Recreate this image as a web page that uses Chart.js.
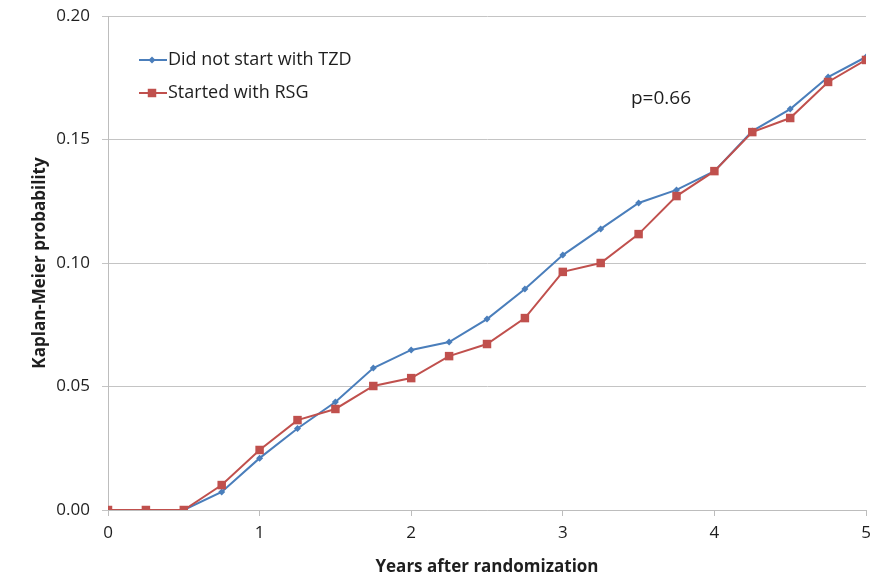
<!DOCTYPE html>
<html>
<head>
<meta charset="utf-8">
<script src="https://cdn.jsdelivr.net/npm/chart.js@4.4.0/dist/chart.umd.min.js"></script>
<style>
  html, body { margin: 0; padding: 0; background: #fff; }
  #wrap { width: 874px; height: 579px; position: relative; }
</style>
</head>
<body>
<div id="wrap"><canvas id="kmChart" width="874" height="579"></canvas></div>
<script>
// years after randomization (every 3 months)
const years = [0, 0.25, 0.5, 0.75, 1, 1.25, 1.5, 1.75, 2, 2.25, 2.5, 2.75, 3, 3.25, 3.5, 3.75, 4, 4.25, 4.5, 4.75, 5];
const noTzd = [0, 0, 0, 0.0073, 0.021, 0.033, 0.0437, 0.0575, 0.0648, 0.068, 0.0773, 0.0895, 0.1032, 0.1138, 0.1243, 0.1296, 0.1372, 0.1534, 0.1623, 0.1753, 0.1834];
const rsg = [0, 0, 0, 0.0101, 0.0243, 0.0364, 0.0409, 0.0502, 0.0534, 0.0623, 0.0672, 0.0777, 0.0964, 0.1, 0.1117, 0.1271, 0.1372, 0.153, 0.1587, 0.1733, 0.1822];
const seriesNames = ['Did not start with TZD', 'Started with RSG'];
const pValueText = 'p=0.66';

const BLUE = '#4a7ebb';
const RED = '#c0504d';
const TEXT = '#1e1e1e';
const FONT = '"Open Sans", "Noto Sans", sans-serif';

function toPoints(vals) {
  return years.map((x, i) => ({ x: x, y: vals[i] }));
}

// legend + p value drawn inside plot area, like the excel chart
const notesPlugin = {
  id: 'notes',
  afterDraw(chart) {
    const ctx = chart.ctx;
    const a = chart.chartArea;
    const items = [
      { name: seriesNames[0], color: BLUE, style: 'rectRot', r: 3.5, y: a.top + 44 },
      { name: seriesNames[1], color: RED, style: 'rect', r: 6, y: a.top + 77 }
    ];
    ctx.save();
    items.forEach(it => {
      const x0 = a.left + 31;
      ctx.strokeStyle = it.color;
      ctx.lineWidth = 2;
      ctx.beginPath();
      ctx.moveTo(x0, it.y);
      ctx.lineTo(x0 + 28, it.y);
      ctx.stroke();
      ctx.fillStyle = it.color;
      Chart.helpers.drawPoint(ctx, { pointStyle: it.style, radius: it.r, borderWidth: 0 }, x0 + 13, it.y);
      ctx.fillStyle = TEXT;
      ctx.font = '18px ' + FONT;
      ctx.textBaseline = 'middle';
      ctx.textAlign = 'left';
      ctx.fillText(it.name, x0 + 29, it.y);
    });
    ctx.font = '19px ' + FONT;
    ctx.fillStyle = TEXT;
    ctx.textBaseline = 'middle';
    ctx.fillText(pValueText, 631, 99);
    ctx.restore();
  }
};

const ctx = document.getElementById('kmChart').getContext('2d');
new Chart(ctx, {
  type: 'line',
  data: {
    datasets: [
      {
        label: seriesNames[0],
        data: toPoints(noTzd),
        borderColor: BLUE,
        backgroundColor: BLUE,
        borderWidth: 2,
        pointStyle: 'rectRot',
        pointRadius: 3.5,
        pointBorderWidth: 0,
        tension: 0,
        order: 2
      },
      {
        label: seriesNames[1],
        data: toPoints(rsg),
        borderColor: RED,
        backgroundColor: RED,
        borderWidth: 2,
        pointStyle: 'rect',
        pointRadius: 6,
        pointBorderWidth: 0,
        tension: 0,
        order: 1
      }
    ]
  },
  options: {
    responsive: false,
    animation: false,
    layout: { padding: { top: 16, right: 8, left: 0, bottom: 0 } },
    plugins: {
      legend: { display: false },
      tooltip: { enabled: false }
    },
    scales: {
      x: {
        type: 'linear',
        min: 0,
        max: 5,
        afterFit: s => {
          s.height = 69;
          s.paddingLeft = 0;
          s.paddingRight = 0;
        },
        ticks: {
          stepSize: 1,
          padding: 7,
          color: TEXT,
          font: { family: FONT, size: 17 }
        },
        grid: {
          drawOnChartArea: false,
          drawTicks: true,
          tickLength: 6,
          color: '#bdbdbd'
        },
        border: { color: '#bdbdbd' },
        title: {
          display: true,
          text: 'Years after randomization',
          color: TEXT,
          font: { family: FONT, size: 17, weight: 'bold' },
          padding: { top: 0, bottom: 2 }
        }
      },
      y: {
        min: 0,
        max: 0.2,
        afterFit: s => {
          s.width = 108;
          s.paddingTop = 0;
          s.paddingBottom = 0;
        },
        ticks: {
          stepSize: 0.05,
          padding: 12,
          color: TEXT,
          font: { family: FONT, size: 17 },
          callback: v => v.toFixed(2)
        },
        grid: {
          color: '#c4c4c4',
          tickLength: 6
        },
        border: { color: '#bdbdbd' },
        title: {
          display: true,
          text: 'Kaplan-Meier probability',
          color: TEXT,
          font: { family: FONT, size: 17, weight: 'bold' },
          padding: { top: 30, bottom: 0 }
        }
      }
    }
  },
  plugins: [notesPlugin]
});
</script>
</body>
</html>
